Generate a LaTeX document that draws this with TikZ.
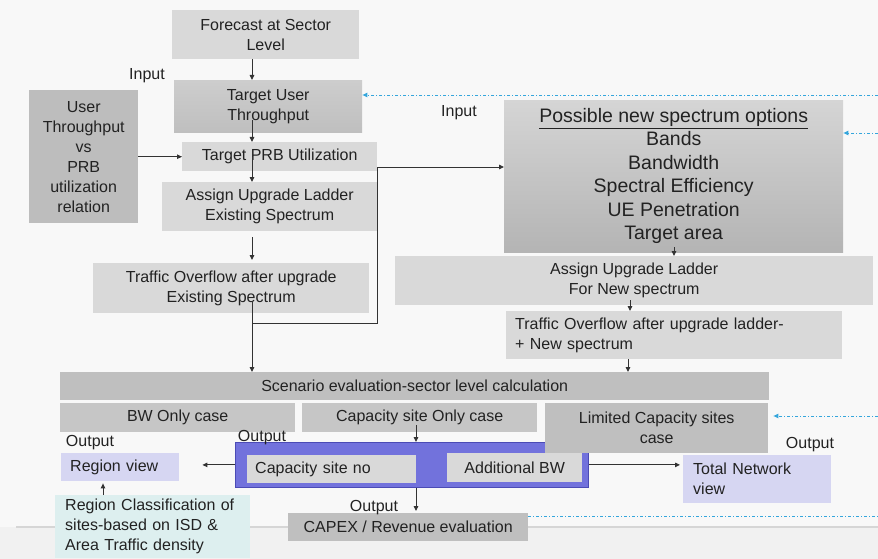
\documentclass[tikz,border=0pt]{standalone}
\usepackage{fontspec}
\setmainfont{Liberation Sans}
\usetikzlibrary{arrows.meta,calc}
\definecolor{bgcol}{HTML}{F8F8F8}
\definecolor{bgfoot}{HTML}{F1F1F1}
\definecolor{rulecol}{HTML}{D6D6D6}
\definecolor{lightbox}{HTML}{D9D9D9}
\definecolor{midbox}{HTML}{C6C6C6}
\definecolor{darkbox}{HTML}{BDBDBD}
\definecolor{scbox}{HTML}{BFBFBF}
\definecolor{lavbox}{HTML}{D6D6F2}
\definecolor{cyanbox}{HTML}{DDEFEF}
\definecolor{bluefill}{HTML}{7272DC}
\definecolor{blueedge}{HTML}{4B4BB5}
\definecolor{feedblue}{HTML}{35A6DC}
\definecolor{shtop}{HTML}{D5D5D5}
\definecolor{shbot}{HTML}{B4B4B4}
\definecolor{tuttop}{HTML}{CDCDCD}
\definecolor{tutbot}{HTML}{BFBFBF}
\definecolor{txt}{HTML}{222222}
\begin{document}
\begin{tikzpicture}[x=1pt,y=-1pt,
  box/.style={inner sep=0pt, align=center, anchor=north west,
    font=\fontsize{16}{20}\selectfont, text=txt},
  lbox/.style={box, align=left, inner xsep=9pt},
  lbl/.style={inner sep=0pt, font=\fontsize{16}{20}\selectfont, text=txt},
  ln/.style={draw=black!80, line width=0.9pt},
  arr/.style={ln, -{Triangle[length=5pt,width=4.5pt]}},
  fb/.style={draw=feedblue, line width=0.9pt, dash pattern=on 3pt off 2pt on 1pt off 2pt},
  fbarr/.style={fb, -{Triangle[length=5pt,width=4.5pt]}}]

% canvas
\clip (0,0) rectangle (878,559);
\fill[bgcol] (0,0) rectangle (878,559);
\fill[bgfoot] (0,527) rectangle (878,559);
\draw[rulecol, line width=1.2pt] (16,527) -- (878,527);

% existing-spectrum column
\node[box, fill=lightbox, minimum width=187pt, minimum height=49pt] (fc) at (172,10) {Forecast at Sector\\Level};
\node[box, top color=tuttop, bottom color=tutbot, minimum width=188pt, minimum height=52pt] (tut) at (174,80) {Target User\\Throughput};
\node[box, fill=lightbox, minimum width=195pt, minimum height=29pt] (prb) at (182,142) {Target PRB Utilization};
\node[box, fill=darkbox, minimum width=109pt, minimum height=133pt] (utp) at (29,90) {User\\Throughput\\vs\\PRB\\utilization\\relation};
\node[box, fill=lightbox, minimum width=215pt, minimum height=49pt] (aes) at (162,182) {Assign Upgrade Ladder\\Existing Spectrum};
\node[box, fill=lightbox, minimum width=276pt, minimum height=50pt] (toe) at (93,263) {Traffic Overflow after upgrade\\Existing Spectrum};

% new-spectrum column
\node[box, top color=shtop, bottom color=shbot, minimum width=339pt, minimum height=152pt,
  font=\fontsize{19.5}{23.5}\selectfont] (pns) at (504,100)
  {\underline{Possible new spectrum options}\\Bands\\Bandwidth\\Spectral Efficiency\\UE Penetration\\Target area};
\node[box, fill=lightbox, minimum width=478pt, minimum height=49pt] (ans) at (395,256) {Assign Upgrade Ladder\\For New spectrum};
\node[lbox, fill=lightbox, text width=318pt, minimum height=48pt] (tons) at (506,311) {Traffic Overflow after upgrade ladder-\\+ New spectrum};

% scenario evaluation
\node[box, fill=scbox, minimum width=709pt, minimum height=28pt] (sc) at (60,372) {Scenario evaluation-sector level calculation};
\node[box, fill=midbox, minimum width=235pt, minimum height=29pt] (bw) at (60,403) {BW Only case};
\node[box, fill=midbox, minimum width=235pt, minimum height=29pt] (cso) at (302,403) {Capacity site Only case};
\node[box, fill=bluefill, draw=blueedge, line width=0.8pt, minimum width=353pt, minimum height=45pt] (blue) at (235,442) {};
\node[box, fill=scbox, minimum width=223pt, minimum height=50pt] (lcs) at (545,403) {Limited Capacity sites\\case};
\node[lbox, fill=lightbox, inner xsep=8pt, text width=153pt, minimum height=28pt] (csn) at (247,455) {Capacity site no};
\node[box, fill=lightbox, minimum width=135pt, minimum height=29pt] (abw) at (447,453) {Additional BW};

% outputs
\node[lbox, fill=lavbox, text width=100pt, minimum height=28pt] (rv) at (61,453) {Region view};
\node[lbox, fill=cyanbox, inner xsep=10pt, inner ysep=4pt, text width=175pt] (rc) at (55,495) {Region Classification of\\sites-based on ISD \&\\Area Traffic density};
\node[box, fill=scbox, minimum width=240pt, minimum height=28pt] (capex) at (288,513) {CAPEX / Revenue evaluation};
\node[lbox, fill=lavbox, inner xsep=10pt, text width=128pt, minimum height=48pt] (tnv) at (683,455) {Total Network\\view};

% free labels
\node[lbl] (in1) at (147,76) {Input};
\node[lbl] (in2) at (459,113) {Input};
\node[lbl] (out1) at (90,443) {Output};
\node[lbl] (out2) at (262,438) {Output};
\node[lbl] (out3) at (374,508) {Output};
\node[lbl] (out4) at (810,445) {Output};

% connector columns
\coordinate (colA) at (252,0);
\coordinate (colB) at (377,0);
\coordinate (colC) at (674,0);
\coordinate (colD) at (630,0);
\coordinate (colE) at (628,0);
\coordinate (colF) at (416,0);
\coordinate (colG) at (103,0);

% main flow, existing spectrum
\draw[arr] (fc.south -| colA) -- (tut.north -| colA);
\draw[arr] ($(tut.south -| colA)+(0,-12)$) -- (prb.north -| colA);
\draw[arr] ($(prb.south -| colA)+(0,-14)$) -- (aes.north -| colA);
\draw[arr, shorten <=6pt, shorten >=3pt] (aes.south -| colA) -- (toe.north -| colA);
\draw[arr] (utp.east |- prb.west) -- (prb.west);

% overflow split: down to scenario, across to the new spectrum options
\coordinate (split) at ($(toe.south -| colA)+(0,10)$);
\coordinate (tap) at (377,167);
\draw[ln] ($(toe.south -| colA)+(0,-11)$) -- (split);
\draw[arr] (split) -- (sc.north -| colA);
\draw[arr] (split) -| (tap) -- (tap -| pns.west);

% main flow, new spectrum
\draw[arr] ($(pns.south -| colC)+(0,-5)$) -- (ans.north -| colC);
\draw[arr] ($(ans.south -| colD)+(0,-5)$) -- (tons.north -| colD);
\draw[arr] (tons.south -| colE) -- (sc.north -| colE);

% scenario results
\draw[arr] ($(cso.south -| colF)+(0,-7)$) -- (blue.north -| colF);
\draw[arr, shorten >=2pt] (blue.south -| colF) -- (capex.north -| colF);
\draw[arr, shorten >=23pt] (blue.west) -- (blue.west -| rv.east);
\draw[arr, shorten >=2pt] (rc.north -| colG) -- (rv.south -| colG);
\draw[arr, shorten >=3pt] (blue.east) -- (blue.east -| tnv.west);

% feedback lines from the right
\coordinate (e1) at (878,95);
\coordinate (e2) at (878,133);
\coordinate (e3) at (878,416);
\coordinate (e4) at (878,516);
\draw[fbarr] (e1) -- (e1 -| tut.east);
\draw[fbarr] (e2) -- (e2 -| pns.east);
\draw[fbarr, shorten >=5pt] (e3) -- (e3 -| lcs.east);
\draw[fb] (e4 -| capex.east) -- (e4);
\end{tikzpicture}
\end{document}
